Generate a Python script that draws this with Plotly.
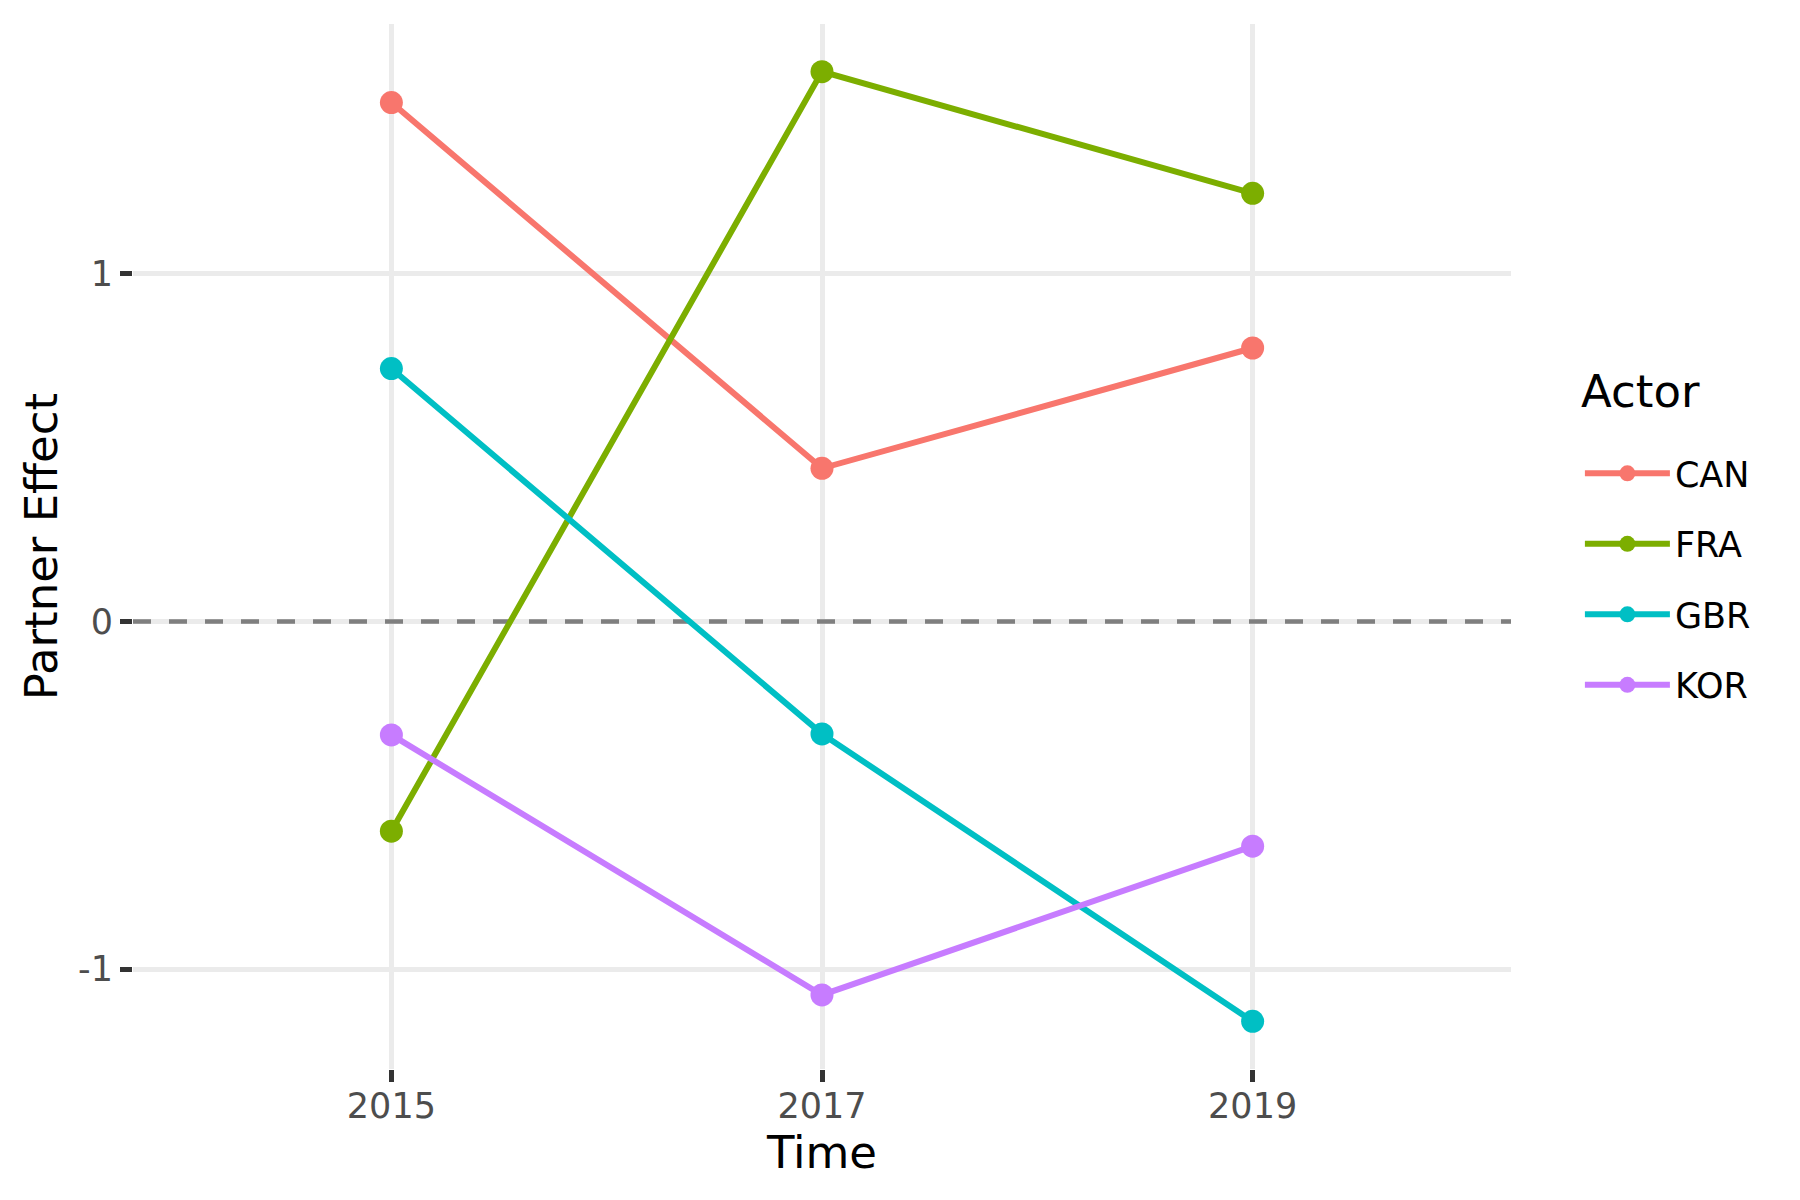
import plotly.graph_objects as go

# Data
years = [2015, 2017, 2019]
actors = ['CAN', 'FRA', 'GBR', 'KOR']
can = [1.493, 0.441, 0.787]
fra = [-0.603, 1.582, 1.232]
gbr = [0.728, -0.323, -1.150]
kor = [-0.326, -1.074, -0.646]

y_ticks = [-1, 0, 1]
x_ticks = [2015, 2017, 2019]
x_range = [2013.8, 2020.2]
y_range = [-1.287, 1.719]

# ggplot default hue palette
colors = ['#F8766D', '#7CAE00', '#00BFC4', '#C77CFF']

fig = go.Figure()

for name, vals, col in zip(actors, [can, fra, gbr, kor], colors):
    fig.add_trace(go.Scatter(x=years, y=vals, name=name, legendgroup=name,
                             mode='lines+markers',
                             line=dict(color=col, width=6),
                             marker=dict(color=col, size=23)))

# dashed zero reference line (above grid, below data)
fig.add_shape(type='line', xref='x', yref='y', x0=x_range[0], x1=x_range[1], y0=0, y1=0,
              line=dict(color='#7F7F7F', width=4.5, dash='18px,18px'),
              layer='between')

font = 'DejaVu Sans'
fig.update_xaxes(range=x_range, tickvals=x_ticks,
                 showgrid=True, gridcolor='#EBEBEB', gridwidth=4.5,
                 zeroline=False, showline=False,
                 ticks='outside', ticklen=12, tickwidth=4.5, tickcolor='#333333',
                 ticklabelstandoff=-6,
                 tickfont=dict(family=font, size=35, color='#4D4D4D'),
                 title=dict(text='Time', font=dict(family=font, size=45, color='black'),
                            standoff=4))
fig.update_yaxes(range=y_range, tickvals=y_ticks, ticktext=['-1', '0', '1'],
                 showgrid=True, gridcolor='#EBEBEB', gridwidth=4.5,
                 zeroline=False, showline=False,
                 ticks='outside', ticklen=12, tickwidth=4.5, tickcolor='#333333',
                 tickfont=dict(family=font, size=35, color='#4D4D4D'),
                 title=dict(text='Partner Effect', font=dict(family=font, size=45, color='black'),
                            standoff=6))

# legend title as its own text so the gap to the items matches
fig.add_annotation(text='Actor', xref='paper', yref='paper', x=1.049, y=0.648,
                   xanchor='left', yanchor='middle', showarrow=False,
                   font=dict(family=font, size=45, color='black'))

fig.update_layout(width=1800, height=1200,
                  plot_bgcolor='white', paper_bgcolor='white',
                  margin=dict(l=125, r=297, t=16, b=139),
                  font=dict(family=font),
                  legend=dict(font=dict(family=font, size=35, color='black'),
                              x=1.05, xanchor='left', y=0.598, yanchor='top',
                              tracegroupgap=22, itemwidth=85),
                  showlegend=True)

fig.write_html("out.html")
